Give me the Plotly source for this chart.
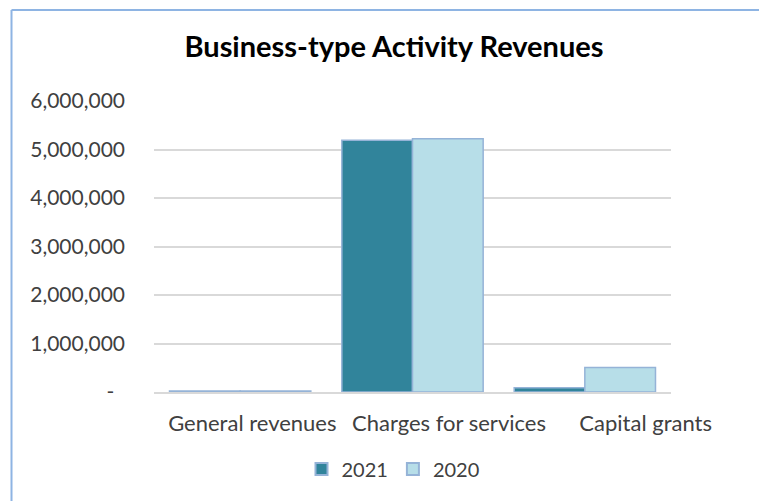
import plotly.graph_objects as go

categories = ["General revenues", "Charges for services", "Capital grants"]
values_2021 = [20000, 5190000, 90000]
values_2020 = [20000, 5220000, 505000]
tick_vals = [0, 1000000, 2000000, 3000000, 4000000, 5000000, 6000000]
tick_text = ["-  ", "1,000,000", "2,000,000", "3,000,000", "4,000,000", "5,000,000", "6,000,000"]

OFF = 8  # page body margin
W, H = 767 - OFF, 501 - OFF
L, R, T, B = 154 - OFF, 767 - 744, 101 - OFF, 109
pw, ph = W - L - R, H - T - B

def px_x(x):
    return (x - OFF - L) / pw

def px_y(y):
    return (H - B - (y - OFF)) / ph

FONT = "Lato, Carlito, Calibri, sans-serif"
edge = "#95B3D7"

fig = go.Figure()
fig.add_trace(go.Bar(name="2021", x=categories, y=values_2021,
                     marker=dict(color="#31849B", line=dict(color=edge, width=1.5))))
fig.add_trace(go.Bar(name="2020", x=categories, y=values_2020,
                     marker=dict(color="#B7DEE8", line=dict(color=edge, width=1.5))))
# invisible helper trace carrying the category label axis
fig.add_trace(go.Scatter(x=categories, y=[0, 0, 0], xaxis="x2", yaxis="y2", mode="markers",
                         marker=dict(opacity=0, size=1), showlegend=False, hoverinfo="skip"))

fig.update_layout(
    width=W, height=H,
    margin=dict(l=L, r=R, t=T, b=B, autoexpand=False),
    paper_bgcolor="white", plot_bgcolor="rgba(0,0,0,0)",
    barmode="group", bargap=0.18, bargroupgap=0,
    font=dict(family=FONT, size=20, color="#404040"),
    title=dict(text="<b>Business-type Activity Revenues</b>", x=(394 - OFF) / W, xanchor="center",
               y=1 - (47 - OFF) / H, yanchor="middle", yref="container",
               font=dict(family=FONT, size=29, color="#000000")),
    showlegend=True,
    legend=dict(orientation="h", x=px_x(393), xanchor="center", y=px_y(469), yanchor="middle",
                font=dict(size=20, color="#404040"), traceorder="normal",
                itemwidth=30, itemsizing="constant"),
    xaxis=dict(domain=[0, px_x(671)], showgrid=False, showline=True, linecolor="#D9D9D9",
               linewidth=1.5, ticks="", showticklabels=False, automargin=False),
    xaxis2=dict(domain=[0, 1], anchor="y2", type="category", range=[-0.5, 2.5],
                showgrid=False, showline=False, zeroline=False,
                ticks="", tickangle=0, automargin=False,
                tickfont=dict(size=22, color="#404040"), ticklabelstandoff=16),
    yaxis=dict(range=[0, 6000000], tickvals=tick_vals, ticktext=tick_text,
               showgrid=True, gridcolor="#D9D9D9", gridwidth=1.5, zeroline=False,
               showline=False, ticks="", automargin=False,
               tickfont=dict(size=21, color="#404040"), ticklabelstandoff=28),
    yaxis2=dict(domain=[0, 1], anchor="x2", range=[0, 6000000], showgrid=False,
                zeroline=False, showline=False, showticklabels=False, ticks="",
                automargin=False),
)

bx = px_x(11.5)
by = px_y(10)
fig.add_shape(type="line", xref="paper", yref="paper", x0=bx, x1=bx, y0=by, y1=-1,
              line=dict(color="#8EB4E3", width=2))
fig.add_shape(type="line", xref="paper", yref="paper", x0=bx, x1=2, y0=by, y1=by,
              line=dict(color="#8EB4E3", width=2))

fig.write_html("out.html")
